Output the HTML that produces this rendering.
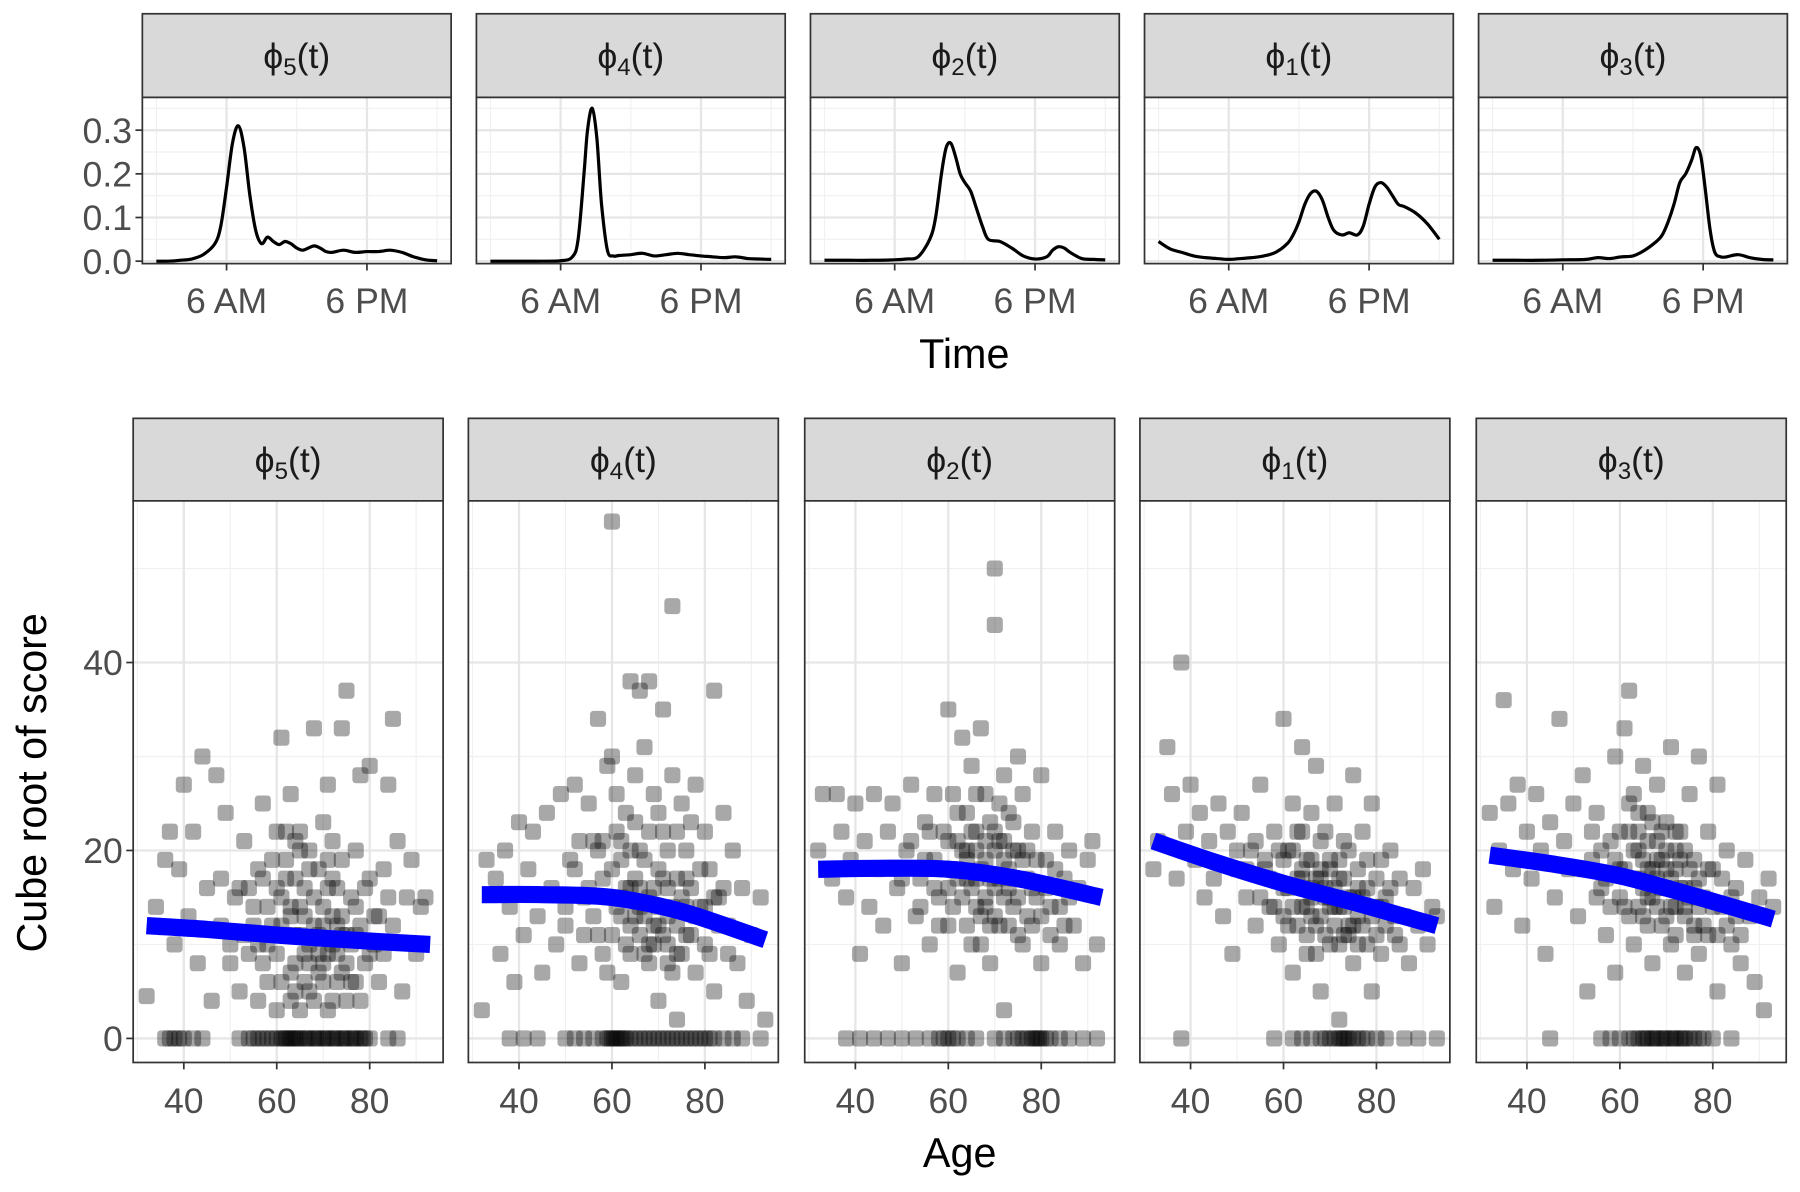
<!DOCTYPE html>
<html><head><meta charset="utf-8"><style>
html,body{margin:0;padding:0;background:#fff;}
svg{display:block;font-family:"Liberation Sans",sans-serif;}
</style></head><body>
<svg id="chart" width="1800" height="1192" viewBox="0 0 1568 1040" preserveAspectRatio="none" xmlns="http://www.w3.org/2000/svg">
<rect width="1568" height="1040" fill="#fff"/>
</svg>
<script>
// ---------- data ----------
const panelLabels = ["5","4","2","1","3"];
const densH5 = [0,1,2,3,4,5,5.5,6,6.5,7,7.5,8,8.5,9,9.5,10,10.5,11,11.5,12,12.5,13,13.5,14,14.5,15,16,17,18,19,20,21,22,23,24];
const densV5 = [0,0,0.002,0.005,0.015,0.04,0.08,0.17,0.27,0.31,0.26,0.15,0.07,0.04,0.055,0.045,0.038,0.045,0.04,0.03,0.025,0.03,0.035,0.03,0.022,0.02,0.025,0.02,0.022,0.022,0.025,0.02,0.01,0.003,0.001];
const densH4 = [0,2,4,6,7,7.5,8,8.3,8.7,9.1,9.5,10,10.5,11,12,13,14,15,16,17,18,19,20,21,22,23,24];
const densV4 = [0,0,0,0.001,0.01,0.05,0.2,0.3,0.35,0.28,0.13,0.025,0.012,0.013,0.015,0.018,0.012,0.015,0.018,0.015,0.012,0.01,0.008,0.01,0.006,0.005,0.004];
const densH2 = [0,2,4,6,7,8,9,9.5,10,10.4,10.8,11.2,11.6,12,12.5,13,13.5,14,15,16,17,18,19,19.5,20,20.5,21,22,23,24];
const densV2 = [0.002,0.002,0.002,0.003,0.005,0.01,0.05,0.1,0.2,0.26,0.27,0.24,0.2,0.18,0.16,0.12,0.08,0.05,0.045,0.03,0.012,0.005,0.01,0.025,0.033,0.03,0.02,0.006,0.004,0.003];
const densH1 = [0,1,2,3,4,5,6,7,8,9,10,11,11.5,12,12.5,13,13.5,14,14.5,15,15.7,16.3,17,17.5,18,18.5,19,19.5,20,20.5,21,22,23,24];
const densV1 = [0.045,0.028,0.02,0.012,0.008,0.006,0.004,0.006,0.008,0.012,0.02,0.04,0.06,0.09,0.13,0.155,0.16,0.14,0.1,0.07,0.06,0.065,0.06,0.08,0.13,0.17,0.18,0.17,0.15,0.13,0.125,0.11,0.085,0.05];
const densH3 = [0,2,4,6,8,9,10,11,12,13,14,14.5,15,15.5,16,16.5,17,17.4,17.8,18.2,18.6,19,19.5,20,21,22,23,24];
const densV3 = [0.002,0.002,0.002,0.003,0.004,0.008,0.006,0.01,0.012,0.025,0.045,0.06,0.09,0.13,0.18,0.2,0.23,0.26,0.24,0.16,0.07,0.02,0.01,0.01,0.015,0.008,0.004,0.003];
const densHours = [densH5,densH4,densH2,densH1,densH3];
const densVals = [densV5,densV4,densV2,densV1,densV3];
const densTickVals = [0,0.1,0.2,0.3];
const densTickLabels = ["0.0","0.1","0.2","0.3"];
const timeTickVals = [6,18];
const timeTickLabels = ["6 AM","6 PM"];

const pts5 = [[32,4.5],[34,14],[36,19],[37,22],[38,10],[39,18],[40,27],[41,13],[42,22],[43,8],[44,30],[45,16],[46,4],[47,28],[48,12],[49,24],[50,8],[51,15],[52,5],[53,21],[54,16],[55,12],[56,4],[57,25],[57,8],[58,14],[59,19],[60,22],[60,3],[61,32],[61,12],[62,17],[63,7],[63,26],[64,21],[64,11],[65,14],[65,3],[66,9],[67,18],[67,5],[68,12],[68,33],[69,7],[70,23],[70,14],[71,27],[71,3],[72,10],[72,17],[73,6],[74,33],[74,13],[75,37],[75,8],[76,15],[77,11],[77,20],[78,28],[78,4],[79,16],[80,9],[80,29],[81,13],[82,6],[83,18],[84,27],[85,34],[85,12],[86,21],[87,5],[88,15],[89,19],[90,9],[91,14],[92,15],[66,16],[62,22],[58,10],[54,9],[69,11],[73,9],[64,5],[71,19],[76,6],[67,10],[60,16],[65,20],[70,8],[74,11],[63,13],[56,18],[72,13],
[55,14],[56,10],[57,17],[58,6],[59,12],[60,9],[61,15],[61,6],[62,11],[62,19],[63,4],[63,14],[64,8],[64,17],[65,11],[65,22],[66,6],[66,13],[67,20],[67,8],[68,15],[68,4],[69,9],[69,18],[70,12],[70,6],[71,16],[71,9],[72,4],[72,21],[73,12],[73,16],[74,7],[74,19],[75,11],[75,4],[76,10],[77,14],[77,6],[78,12],[79,8],[80,17],[81,10],[82,13],[83,9],[84,15],[53,11],[52,16],[50,10],[48,17]];
const pts4 = [[32,3],[33,19],[35,17],[36,9],[37,20],[38,14],[39,6],[40,23],[41,11],[42,18],[43,22],[44,13],[45,7],[46,24],[47,16],[48,10],[49,26],[50,12],[51,19],[52,27],[53,8],[54,15],[55,25],[56,21],[57,34],[57,11],[58,17],[59,29],[59,7],[60,55],[60,30],[61,14],[61,22],[62,19],[62,6],[63,24],[63,10],[64,38],[64,16],[65,28],[65,13],[66,37],[66,20],[67,9],[67,31],[68,38],[68,15],[69,26],[69,12],[70,18],[70,4],[71,35],[71,22],[72,13],[72,8],[73,46],[73,28],[74,17],[74,2],[75,25],[76,11],[76,20],[77,16],[78,27],[78,7],[79,14],[80,22],[80,10],[81,18],[82,37],[82,5],[83,15],[84,24],[85,12],[86,20],[87,8],[88,16],[89,4],[90,11],[92,15],[93,2],[64,12],[68,10],[72,16],[66,14],[70,12],[62,15],[74,9],[58,21],[76,14],
[50,14],[52,18],[53,21],[54,11],[55,16],[56,13],[57,20],[58,9],[59,15],[60,18],[60,11],[61,26],[62,13],[62,21],[63,16],[64,9],[64,20],[65,17],[65,23],[66,11],[66,16],[67,19],[67,13],[68,8],[68,22],[69,16],[69,10],[70,14],[70,24],[71,11],[71,17],[72,20],[72,10],[73,14],[73,7],[74,12],[74,22],[75,15],[75,9],[76,17],[77,11],[77,23],[78,13],[79,18],[80,14],[81,9],[82,15],[83,12],[84,16],[85,9]];
const pts2 = [[32,20],[33,26],[35,17],[36,26],[37,22],[38,15],[39,19],[40,25],[41,9],[42,21],[43,14],[44,26],[45,18],[46,12],[47,22],[48,25],[49,16],[50,8],[51,20],[52,27],[53,13],[54,17],[55,23],[56,10],[57,26],[57,19],[58,15],[59,22],[60,35],[60,12],[61,18],[61,26],[62,7],[62,21],[63,32],[63,15],[64,20],[64,24],[65,10],[65,29],[66,17],[66,22],[67,33],[67,13],[68,19],[68,26],[69,8],[69,23],[70,50],[70,44],[70,16],[71,21],[71,12],[72,28],[72,3],[73,18],[73,24],[74,14],[75,30],[75,20],[76,10],[76,26],[77,17],[78,22],[78,12],[79,15],[80,28],[80,8],[81,19],[82,14],[83,22],[84,10],[85,17],[86,20],[87,12],[88,16],[89,8],[90,19],[91,21],[92,10],[64,17],[68,15],[72,19],[66,20],[70,22],[62,18],[74,17],
[50,17],[52,21],[54,14],[55,19],[56,22],[57,16],[58,12],[59,18],[60,21],[60,16],[61,14],[62,17],[62,24],[63,20],[64,12],[64,19],[65,16],[65,22],[66,14],[66,26],[67,18],[67,10],[68,21],[68,14],[69,17],[69,12],[70,20],[70,13],[71,17],[71,25],[72,15],[72,21],[73,12],[73,16],[74,20],[74,23],[75,15],[75,11],[76,19],[77,13],[77,20],[78,16],[79,19],[80,13],[81,16],[82,11],[83,18],[84,14],[85,12],[86,15]];
const pts1 = [[32,18],[33,21],[35,31],[36,26],[37,17],[38,40],[39,22],[40,27],[41,19],[42,24],[43,15],[44,21],[45,17],[46,25],[47,13],[48,22],[49,9],[50,18],[51,24],[52,15],[53,20],[54,12],[55,27],[56,18],[57,14],[58,22],[59,10],[60,34],[60,16],[61,20],[61,12],[62,25],[62,7],[63,17],[63,22],[64,14],[64,31],[65,19],[65,9],[66,16],[66,24],[67,12],[67,29],[68,18],[68,5],[69,15],[69,22],[70,10],[70,19],[71,25],[71,14],[72,2],[72,17],[73,21],[73,11],[74,15],[75,28],[75,8],[76,18],[76,13],[77,22],[78,10],[78,16],[79,25],[79,5],[80,14],[81,19],[81,9],[82,15],[83,20],[84,11],[85,17],[86,13],[87,8],[88,16],[89,12],[90,18],[91,10],[92,14],[93,13],[66,13],[70,15],[74,12],[68,17],[72,14],[64,18],[76,16],
[50,20],[52,18],[54,21],[55,15],[56,19],[57,17],[58,14],[59,20],[60,13],[60,19],[61,16],[62,14],[62,20],[63,12],[64,17],[64,22],[65,14],[65,11],[66,19],[66,15],[67,17],[67,9],[68,13],[68,21],[69,16],[69,11],[70,14],[70,18],[71,12],[71,16],[72,19],[72,10],[73,14],[73,17],[74,11],[74,20],[75,15],[75,12],[76,10],[77,15],[77,12],[78,19],[79,13],[80,11],[80,17],[81,14],[82,12],[83,16],[84,13],[85,10]];
const pts3 = [[32,24],[33,14],[34,20],[35,36],[36,25],[37,18],[38,27],[39,12],[40,22],[41,17],[42,26],[43,20],[44,9],[45,23],[46,15],[47,34],[48,21],[49,18],[50,25],[51,13],[52,28],[53,5],[54,19],[55,24],[56,16],[57,11],[58,21],[59,30],[59,7],[60,18],[61,33],[61,14],[62,37],[62,22],[63,10],[63,26],[64,17],[64,20],[65,13],[65,29],[66,18],[66,24],[67,8],[67,15],[68,21],[68,27],[69,12],[69,19],[70,16],[70,23],[71,10],[71,31],[72,18],[72,14],[73,22],[74,7],[74,16],[75,26],[76,12],[76,19],[77,30],[77,9],[78,15],[79,22],[79,11],[80,18],[81,27],[81,5],[82,14],[83,20],[84,10],[85,16],[86,8],[87,19],[88,13],[89,6],[90,15],[91,3],[92,17],[93,14],[66,15],[70,18],[74,14],[68,17],[72,20],[64,22],[76,16],
[52,18],[54,22],[55,15],[56,20],[57,17],[58,14],[59,19],[60,22],[60,15],[61,18],[62,13],[62,25],[63,17],[63,20],[64,14],[64,24],[65,19],[65,16],[66,21],[66,12],[67,18],[67,23],[68,14],[68,19],[69,16],[69,22],[70,13],[70,20],[71,17],[71,14],[72,22],[72,11],[73,16],[73,19],[74,13],[74,20],[75,15],[75,18],[76,11],[77,17],[77,14],[78,12],[79,18],[80,14],[81,11],[82,17],[83,12],[84,15],[85,13],[86,11]];
const scatterPts = [pts5,pts4,pts2,pts1,pts3];
const zeros5 = [36,38,40,42,44,52,54,56,58,60,61,62,63,64,65,66,67,68,69,70,71,72,73,74,75,76,77,78,79,80,84,86,37,39,55,57,59,61.5,62.5,63.5,64.5,66.5,68.5,70.5,72.5,74.5,76.5,78.5];
const zeros4 = [38,41,44,50,52,54,56,58,59,60,61,62,63,64,66,68,70,71,72,74,75,76,78,79,80,82,84,86,88,92,60.5,61.5,62.5,59.5,65,67,69,73,77,81];
const zeros2 = [38,41,44,47,50,53,56,58,60,62,64,66,70,72,74,76,77,78,79,80,82,84,86,89,92,59,61,75,78.5,79.5,81];
const zeros1 = [38,58,62,64,66,68,70,71,72,73,74,75,76,78,80,82,86,89,93,69,77,72.5,73.5];
const zeros3 = [45,56,58,60,62,63,64,65,66,67,68,69,70,71,72,73,74,75,76,78,80,84,65.5,67.5,69.5,71.5,73.5,77];
const zeroAges = [zeros5,zeros4,zeros2,zeros1,zeros3];
const trendAges = [32,45,60,75,93];
const trend5 = [12,11.6,11,10.5,10];
const trend4 = [15.3,15.3,15,13.5,10.5];
const trend2 = [18,18.1,18,17,15];
const trend1 = [21,18.8,16.5,14.5,12];
const trend3 = [19.5,18.6,17.3,15.3,12.7];
const trendVals = [trend5,trend4,trend2,trend1,trend3];
const scoreTicks = [0,20,40];
const ageTicks = [40,60,80];

// ---------- drawing ----------
const NS="http://www.w3.org/2000/svg";
const svg=document.getElementById('chart');
function mk(tag,attrs,parent){const e=document.createElementNS(NS,tag);for(const k in attrs)e.setAttribute(k,attrs[k]);(parent||svg).appendChild(e);return e;}
const defs=mk('defs',{});
function smoothPath(P){
  let d='M'+P[0][0].toFixed(1)+','+P[0][1].toFixed(1);
  for(let k=0;k<P.length-1;k++){
    const p0=P[Math.max(0,k-1)],p1=P[k],p2=P[k+1],p3=P[Math.min(P.length-1,k+2)];
    const c1=[p1[0]+(p2[0]-p0[0])/6,p1[1]+(p2[1]-p0[1])/6];
    const c2=[p2[0]-(p3[0]-p1[0])/6,p2[1]-(p3[1]-p1[1])/6];
    d+='C'+c1[0].toFixed(1)+','+c1[1].toFixed(1)+' '+c2[0].toFixed(1)+','+c2[1].toFixed(1)+' '+p2[0].toFixed(1)+','+p2[1].toFixed(1);
  }
  return d;
}

function strip(x0,y0,w,h,lab,i,row){
  const r=mk('rect',{x:x0,y:y0,width:w,height:h,fill:'#d9d9d9',stroke:'#333','stroke-width':1.5});
  
  
  const t=mk('text',{x:x0+w/2,y:y0+h/2+11,'text-anchor':'middle','font-size':31,fill:'#1a1a1a'});
  
  
  t.innerHTML='\u03d5<tspan font-size="21" dy="6">'+lab+'</tspan><tspan dy="-6">(t)</tspan>';
}

const topX=[124,415,706,997,1288], topW=269, stripTop=12, plotTop=85, plotBot=230;
const tDom=[-1.2,25.2], dDom=[-0.0056,0.375];
for(let i=0;i<5;i++){
  const x0=topX[i];
  const sx=h=>x0+(h-tDom[0])/(tDom[1]-tDom[0])*topW;
  const sy=v=>plotBot-(v-dDom[0])/(dDom[1]-dDom[0])*(plotBot-plotTop);
  strip(x0,stripTop,topW,plotTop-stripTop,panelLabels[i],i,'top');
  const g=mk('g',{});
  
  
  mk('rect',{x:x0,y:plotTop,width:topW,height:plotBot-plotTop,fill:'#fff'},g);
  [0.05,0.15,0.25,0.35].forEach(v=>mk('line',{x1:x0,x2:x0+topW,y1:sy(v),y2:sy(v),stroke:'#f0f0f0','stroke-width':1},g));
  [0,12,24].forEach(v=>mk('line',{x1:sx(v),x2:sx(v),y1:plotTop,y2:plotBot,stroke:'#f0f0f0','stroke-width':1},g));
  densTickVals.forEach(v=>mk('line',{x1:x0,x2:x0+topW,y1:sy(v),y2:sy(v),stroke:'#e6e6e6','stroke-width':2},g));
  timeTickVals.forEach(v=>mk('line',{x1:sx(v),x2:sx(v),y1:plotTop,y2:plotBot,stroke:'#e6e6e6','stroke-width':2},g));
  const H=densHours[i],V=densVals[i];
  const P=H.map((h,k)=>[sx(h),sy(V[k])]);
  const p=mk('path',{d:smoothPath(P),fill:'none',stroke:'#000','stroke-width':2.8,'stroke-linejoin':'round'},g);
  
  
  mk('rect',{x:x0,y:plotTop,width:topW,height:plotBot-plotTop,fill:'none',stroke:'#333','stroke-width':1.5},g);
  timeTickVals.forEach((v,k)=>{
    mk('line',{x1:sx(v),x2:sx(v),y1:plotBot,y2:plotBot+6,stroke:'#333','stroke-width':1.5},g);
    const t=mk('text',{x:sx(v),y:plotBot+43,'text-anchor':'middle','font-size':31,fill:'#4d4d4d'},g);
    
    
    t.textContent=timeTickLabels[k];
  });
  if(i===0){
    densTickVals.forEach((v,k)=>{
      mk('line',{x1:x0-6,x2:x0,y1:sy(v),y2:sy(v),stroke:'#333','stroke-width':1.5},g);
      const t=mk('text',{x:x0-9,y:sy(v)+11,'text-anchor':'end','font-size':31,fill:'#4d4d4d'},g);
      
      
      t.textContent=densTickLabels[k];
    });
  }
}
const tt=mk('text',{x:840,y:321,'text-anchor':'middle','font-size':36,fill:'#000'});


tt.textContent='Time';

const botX=[116,408,701,993,1286], botW=270, bStrip=365, bTop=437, bBot=927;
const aDom=[29.1,95.8], sDom=[-2.56,57.2];
for(let i=0;i<5;i++){
  const x0=botX[i];
  const sx=a=>x0+(a-aDom[0])/(aDom[1]-aDom[0])*botW;
  const sy=v=>bBot-(v-sDom[0])/(sDom[1]-sDom[0])*(bBot-bTop);
  strip(x0,bStrip,botW,bTop-bStrip,panelLabels[i],i,'bottom');
  const g=mk('g',{});
  
  
  const cp=mk('clipPath',{id:'cp'+i},defs);
  mk('rect',{x:x0,y:bTop,width:botW,height:bBot-bTop},cp);
  mk('rect',{x:x0,y:bTop,width:botW,height:bBot-bTop,fill:'#fff'},g);
  [10,30,50].forEach(v=>mk('line',{x1:x0,x2:x0+botW,y1:sy(v),y2:sy(v),stroke:'#f0f0f0','stroke-width':1},g));
  [30,50,70,90].forEach(v=>mk('line',{x1:sx(v),x2:sx(v),y1:bTop,y2:bBot,stroke:'#f0f0f0','stroke-width':1},g));
  scoreTicks.forEach(v=>mk('line',{x1:x0,x2:x0+botW,y1:sy(v),y2:sy(v),stroke:'#e6e6e6','stroke-width':2},g));
  ageTicks.forEach(v=>mk('line',{x1:sx(v),x2:sx(v),y1:bTop,y2:bBot,stroke:'#e6e6e6','stroke-width':2},g));
  const pg=mk('g',{'clip-path':'url(#cp'+i+')'},g);
  const sz=14;
  scatterPts[i].forEach(pt=>{
    const r=mk('rect',{x:sx(pt[0])-sz/2,y:sy(pt[1])-sz/2,width:sz,height:sz,rx:3,fill:'#000','fill-opacity':0.34},pg);
    
    
  });
  zeroAges[i].forEach(a=>{
    const r=mk('rect',{x:sx(a)-sz/2,y:sy(0)-sz/2,width:sz,height:sz,rx:3,fill:'#000','fill-opacity':0.34},pg);
    
    
  });
  const tv=trendVals[i];
  const TP=trendAges.map((a,k)=>[sx(a),sy(tv[k])]);
  const tl=mk('path',{d:smoothPath(TP),fill:'none',stroke:'#0000ff','stroke-width':15,'stroke-linejoin':'round'},pg);
  
  
  mk('rect',{x:x0,y:bTop,width:botW,height:bBot-bTop,fill:'none',stroke:'#333','stroke-width':1.5},g);
  ageTicks.forEach(v=>{
    mk('line',{x1:sx(v),x2:sx(v),y1:bBot,y2:bBot+6,stroke:'#333','stroke-width':1.5},g);
    const t=mk('text',{x:sx(v),y:bBot+44,'text-anchor':'middle','font-size':31,fill:'#4d4d4d'},g);
    
    
    t.textContent=v;
  });
  if(i===0){
    scoreTicks.forEach(v=>{
      mk('line',{x1:x0-6,x2:x0,y1:sy(v),y2:sy(v),stroke:'#333','stroke-width':1.5},g);
      const t=mk('text',{x:x0-9,y:sy(v)+11,'text-anchor':'end','font-size':31,fill:'#4d4d4d'},g);
      
      
      t.textContent=v;
    });
  }
}
const at=mk('text',{x:836,y:1018,'text-anchor':'middle','font-size':36,fill:'#000'});


at.textContent='Age';
const yt=mk('text',{x:0,y:0,'text-anchor':'middle','font-size':36,fill:'#000',transform:'translate(40,683) rotate(-90)'});


yt.textContent='Cube root of score';
</script>
</body></html>
